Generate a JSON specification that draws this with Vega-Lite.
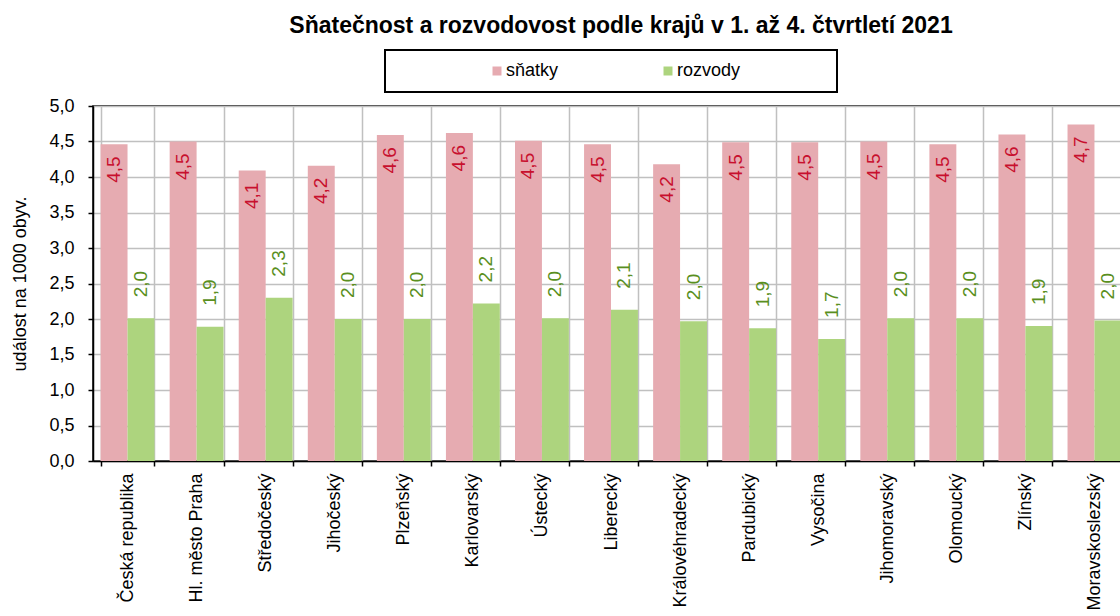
{
  "$schema": "https://vega.github.io/schema/vega-lite/v6.json",
  "width": 1036,
  "height": 355,
  "autosize": {"type": "none"},
  "padding": {"left": 93, "top": 106, "right": 0, "bottom": 155},
  "background": "white",
  "config": {
    "font": "Liberation Sans",
    "locale": {"number": {"decimal": ",", "thousands": " ", "grouping": [3], "currency": ["", " Kč"]}},
    "view": {"stroke": "#000", "strokeWidth": 1.5}
  },
  "title": {
    "text": "Sňatečnost  a rozvodovost  podle krajů v 1. až 4. čtvrtletí 2021",
    "fontSize": 23,
    "fontWeight": "bold",
    "color": "#000",
    "anchor": "middle",
    "offset": 11,
    "dx": 10
  },
  "data": {
    "values": [
      {"kraj": "Česká republika", "ukazatel": "sňatky", "hodnota": 4.46},
      {"kraj": "Česká republika", "ukazatel": "rozvody", "hodnota": 2.01},
      {"kraj": "Hl. město Praha", "ukazatel": "sňatky", "hodnota": 4.5},
      {"kraj": "Hl. město Praha", "ukazatel": "rozvody", "hodnota": 1.89},
      {"kraj": "Středočeský", "ukazatel": "sňatky", "hodnota": 4.09},
      {"kraj": "Středočeský", "ukazatel": "rozvody", "hodnota": 2.3},
      {"kraj": "Jihočeský", "ukazatel": "sňatky", "hodnota": 4.16},
      {"kraj": "Jihočeský", "ukazatel": "rozvody", "hodnota": 2.0},
      {"kraj": "Plzeňský", "ukazatel": "sňatky", "hodnota": 4.59},
      {"kraj": "Plzeňský", "ukazatel": "rozvody", "hodnota": 2.0},
      {"kraj": "Karlovarský", "ukazatel": "sňatky", "hodnota": 4.62},
      {"kraj": "Karlovarský", "ukazatel": "rozvody", "hodnota": 2.22},
      {"kraj": "Ústecký", "ukazatel": "sňatky", "hodnota": 4.51},
      {"kraj": "Ústecký", "ukazatel": "rozvody", "hodnota": 2.01},
      {"kraj": "Liberecký", "ukazatel": "sňatky", "hodnota": 4.46},
      {"kraj": "Liberecký", "ukazatel": "rozvody", "hodnota": 2.13},
      {"kraj": "Královéhradecký", "ukazatel": "sňatky", "hodnota": 4.18},
      {"kraj": "Královéhradecký", "ukazatel": "rozvody", "hodnota": 1.97},
      {"kraj": "Pardubický", "ukazatel": "sňatky", "hodnota": 4.49},
      {"kraj": "Pardubický", "ukazatel": "rozvody", "hodnota": 1.87},
      {"kraj": "Vysočina", "ukazatel": "sňatky", "hodnota": 4.49},
      {"kraj": "Vysočina", "ukazatel": "rozvody", "hodnota": 1.72},
      {"kraj": "Jihomoravský", "ukazatel": "sňatky", "hodnota": 4.5},
      {"kraj": "Jihomoravský", "ukazatel": "rozvody", "hodnota": 2.01},
      {"kraj": "Olomoucký", "ukazatel": "sňatky", "hodnota": 4.46},
      {"kraj": "Olomoucký", "ukazatel": "rozvody", "hodnota": 2.01},
      {"kraj": "Zlínský", "ukazatel": "sňatky", "hodnota": 4.6},
      {"kraj": "Zlínský", "ukazatel": "rozvody", "hodnota": 1.9},
      {"kraj": "Moravskoslezský", "ukazatel": "sňatky", "hodnota": 4.74},
      {"kraj": "Moravskoslezský", "ukazatel": "rozvody", "hodnota": 1.98}
    ]
  },
  "encoding": {
    "x": {
      "field": "kraj",
      "type": "nominal",
      "sort": null,
      "scale": {"paddingInner": 0.22, "paddingOuter": 0.11},
      "axis": {
        "title": null,
        "labelAngle": -90,
        "labelFontSize": 18,
        "labelColor": "#000",
        "labelPadding": 7,
        "labelLimit": 200,
        "tickBand": "extent",
        "tickSize": 5,
        "tickColor": "#000",
        "tickWidth": 1.5,
        "domainColor": "#000",
        "domainWidth": 1.5,
        "grid": true,
        "gridColor": "#C0C0C0",
        "gridWidth": 1.5
      }
    },
    "xOffset": {"field": "ukazatel", "type": "nominal", "sort": ["sňatky", "rozvody"]},
    "y": {
      "field": "hodnota",
      "type": "quantitative",
      "scale": {"domain": [0, 5], "nice": false},
      "axis": {
        "title": "událost na 1000 obyv.",
        "titleFontSize": 18,
        "titleFontWeight": "normal",
        "titleColor": "#000",
        "titlePadding": 19,
        "values": [0, 0.5, 1, 1.5, 2, 2.5, 3, 3.5, 4, 4.5, 5],
        "format": ".1f",
        "labelFontSize": 18,
        "labelColor": "#000",
        "labelPadding": 14,
        "tickSize": 5,
        "tickColor": "#000",
        "tickWidth": 1.5,
        "domainColor": "#000",
        "domainWidth": 1.5,
        "grid": true,
        "gridColor": "#C0C0C0",
        "gridWidth": 1.5
      }
    }
  },
  "layer": [
    {
      "mark": {"type": "bar"},
      "encoding": {
        "color": {
          "field": "ukazatel",
          "type": "nominal",
          "scale": {"domain": ["sňatky", "rozvody"], "range": ["#E6ABB1", "#ADD47E"]},
          "legend": {
            "orient": "none",
            "legendX": 292,
            "legendY": -56,
            "direction": "horizontal",
            "title": " ",
            "titleOrient": "right",
            "titlePadding": 85,
            "titleFontSize": 18,
            "symbolType": "square",
            "symbolSize": 81,
            "symbolOffset": 91,
            "symbolStrokeWidth": 0,
            "labelOffset": 0,
            "columnPadding": 9,
            "padding": 12,
            "strokeColor": "#000",
            "labelFontSize": 18,
            "labelColor": "#000",
            "encode": {"legend": {"update": {"strokeWidth": {"value": 2}}}}
          }
        }
      }
    },
    {
      "transform": [{"filter": "datum.ukazatel === 'sňatky'"}],
      "mark": {"type": "text", "angle": 270, "align": "right", "baseline": "middle", "dx": -12, "fontSize": 19, "color": "#C8102E"},
      "encoding": {"text": {"field": "hodnota", "type": "quantitative", "format": ".1f"}}
    },
    {
      "transform": [{"filter": "datum.ukazatel === 'rozvody'"}],
      "mark": {"type": "text", "angle": 270, "align": "left", "baseline": "middle", "dx": 21, "fontSize": 19, "color": "#5A8F1E"},
      "encoding": {"text": {"field": "hodnota", "type": "quantitative", "format": ".1f"}}
    }
  ]
}
